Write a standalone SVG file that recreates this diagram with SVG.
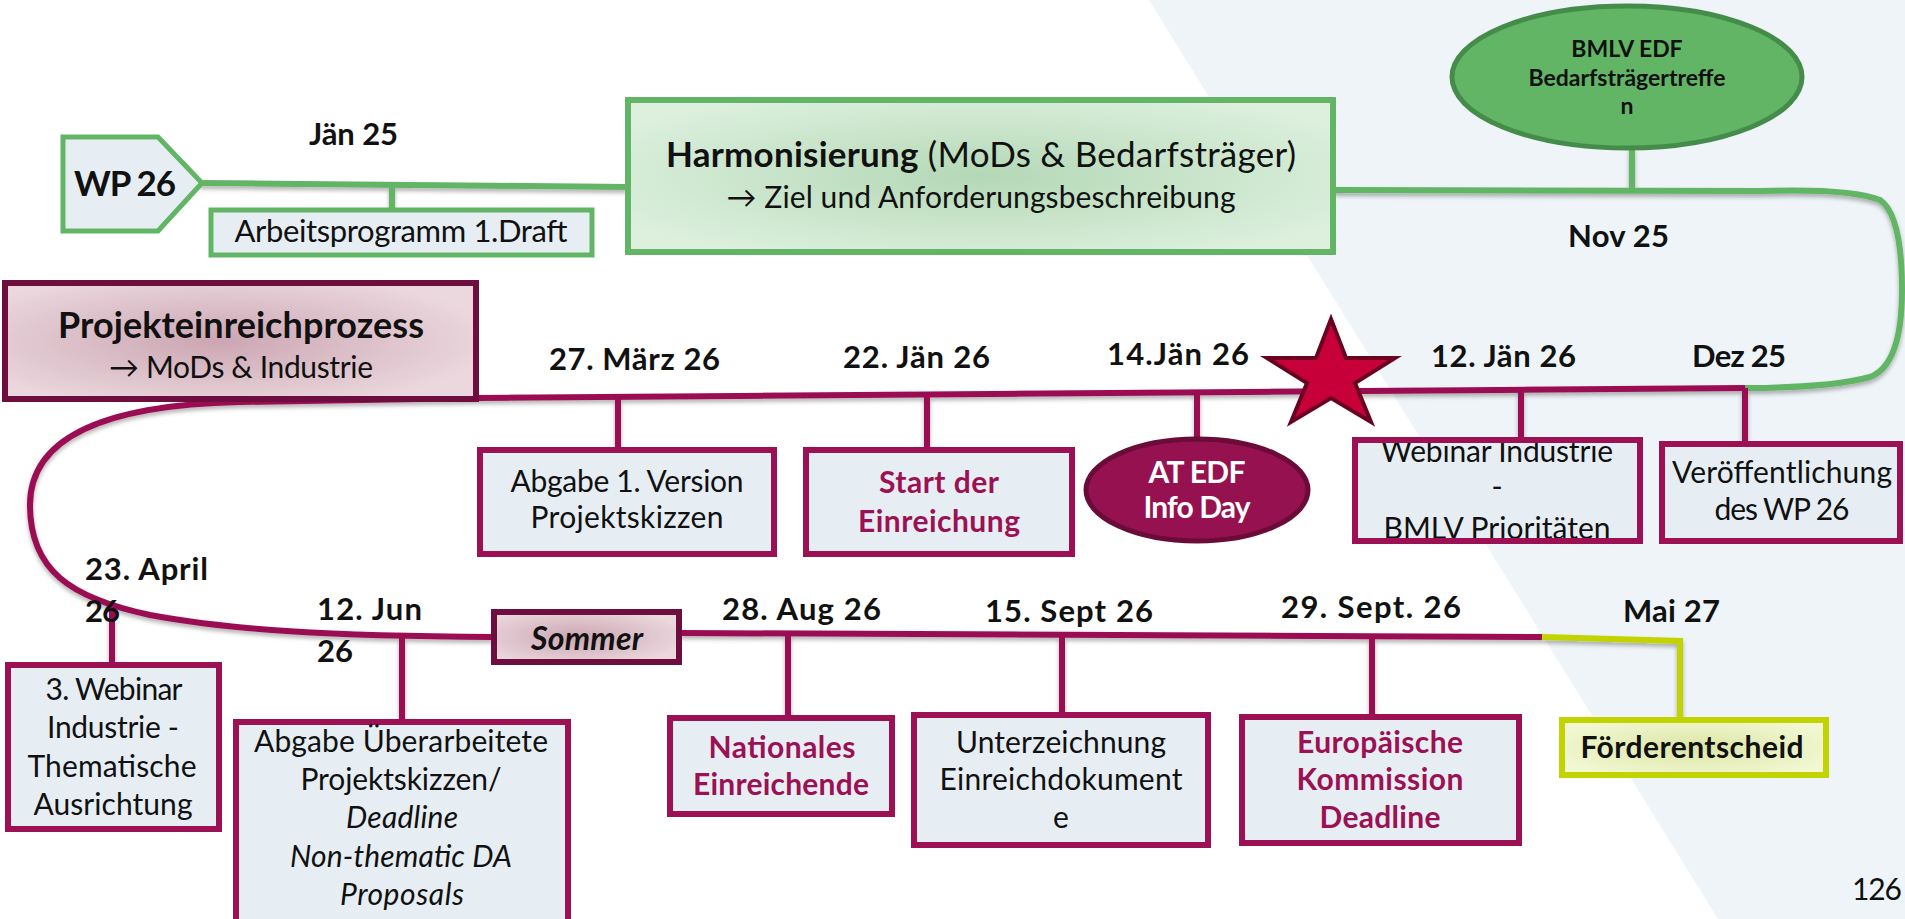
<svg xmlns="http://www.w3.org/2000/svg" width="1905" height="919" viewBox="0 0 1905 919">
<defs>
<style>
text { font-family: Lato, "Liberation Sans", sans-serif; }
.d { font-weight: 700; font-size: 31px; fill: #111; }
.t { font-size: 30px; fill: #111; text-anchor: middle; }
.tb { font-size: 30px; font-weight: 700; fill: #9B1153; text-anchor: middle; }
.box { fill: #E6EEF4; stroke: #9B1153; stroke-width: 6; }
.gbox { fill: #E6EEF4; stroke: #62B565; stroke-width: 5; }
.gl { fill: none; stroke: #62B565; stroke-width: 6; }
.ml { fill: none; stroke: #9B1153; stroke-width: 6; }
.yl { fill: none; stroke: #C2D400; stroke-width: 6; }
</style>
<filter id="sh" x="-10%" y="-50%" width="120%" height="200%">
<feDropShadow dx="0" dy="3" stdDeviation="2" flood-color="#000" flood-opacity="0.3"/>
</filter>
<radialGradient id="gg" cx="50%" cy="50%" r="60%">
<stop offset="0" stop-color="#B4D8B6"/><stop offset="1" stop-color="#DDF0DE"/>
</radialGradient>
<radialGradient id="pg" cx="45%" cy="50%" r="60%">
<stop offset="0" stop-color="#CCA6B2"/><stop offset="1" stop-color="#EBD8DE"/>
</radialGradient>
<radialGradient id="yg" cx="50%" cy="50%" r="60%">
<stop offset="0" stop-color="#DCE6A6"/><stop offset="1" stop-color="#F3F8D4"/>
</radialGradient>
</defs>

<rect width="1905" height="919" fill="#FFFFFF"/>
<polygon points="1149,0 1905,0 1905,919 1718,919" fill="#EEF4F7"/>

<g id="connectors" filter="url(#sh)">
<path class="gl" d="M200,183 L627,187"/>
<path class="gl" d="M392,186 L392,208"/>
<path class="gl" d="M1334,190 L1760,191 Q1850,188 1880,200 Q1902,215 1902,290 Q1902,365 1870,377 Q1830,388 1742,388"/>
<path class="gl" d="M1632,148 L1632,191"/>
<path class="ml" d="M477,398 L1745,388"/>
<path class="ml" d="M479,398 L240,402 C100,405 30,440 30,505 C30,570 70,598 150,615 C230,630 330,636 493,637"/>
<path class="ml" d="M618,396 L618,449"/>
<path class="ml" d="M927,393 L927,448"/>
<path class="ml" d="M1197,391 L1197,439"/>
<path class="ml" d="M1521,389 L1521,438"/>
<path class="ml" d="M1745,388 L1745,442"/>
<path class="ml" d="M680,633 L1542,637"/>
<path class="ml" d="M112,606 L112,663"/>
<path class="ml" d="M402,635 L402,720"/>
<path class="ml" d="M788,634 L788,716"/>
<path class="ml" d="M1062,635 L1062,713"/>
<path class="ml" d="M1372,637 L1372,715"/>
<path class="yl" d="M1542,637 L1680,641 L1680,718"/>
</g>

<g id="wp26">
<polygon points="63,137 158,137 202,183 158,231 63,231" fill="#E6EEF4" stroke="#62B565" stroke-width="5"/>
<text x="125" y="196" class="d" style="font-size:35px" text-anchor="middle" textLength="102">WP 26</text>
</g>
<g id="jan25"><text x="309" y="145" class="d" textLength="89">Jän 25</text></g>
<g id="arbeitsprogramm">
<rect x="211" y="210" width="381" height="45" class="gbox"/>
<text x="401" y="242" class="t" style="font-size:31px" textLength="333">Arbeitsprogramm 1.Draft</text>
</g>
<g id="harmonisierung">
<rect x="628" y="100" width="705" height="152" fill="url(#gg)" stroke="#62B565" stroke-width="6"/>
<text x="981" y="167" class="t" style="font-size:35px" textLength="630"><tspan font-weight="700">Harmonisierung</tspan> (MoDs &amp; Bedarfsträger)</text>
<text x="981" y="208" class="t" textLength="509">→ Ziel und Anforderungsbeschreibung</text>
</g>
<g id="bmlv">
<ellipse cx="1627" cy="77" rx="175" ry="71" fill="#62B565" stroke="#458C4B" stroke-width="5"/>
<text x="1627" y="57" class="d" style="font-size:23px" text-anchor="middle">BMLV EDF</text>
<text x="1627" y="86" class="d" style="font-size:23px" text-anchor="middle">Bedarfsträgertreffe</text>
<text x="1627" y="114" class="d" style="font-size:23px" text-anchor="middle">n</text>
</g>
<g id="nov25"><text x="1568" y="247" class="d" textLength="101">Nov 25</text></g>
<g id="dez25"><text x="1692" y="367" class="d" textLength="94">Dez 25</text></g>
<g id="jan26-12"><text x="1431" y="367" class="d" textLength="145">12. Jän 26</text></g>
<g id="jan26-14"><text x="1107" y="365" class="d" textLength="142">14.Jän 26</text></g>
<g id="jan26-22"><text x="843" y="368" class="d" textLength="147">22. Jän 26</text></g>
<g id="maerz26"><text x="549" y="370" class="d" textLength="171">27. März 26</text></g>

<g id="projekteinreichprozess">
<rect x="5" y="283" width="471" height="116" fill="url(#pg)" stroke="#6E0E3E" stroke-width="6"/>
<text x="241" y="338" class="t" style="font-size:36px;font-weight:700" textLength="366">Projekteinreichprozess</text>
<text x="241" y="378" class="t" textLength="264">→ MoDs &amp; Industrie</text>
</g>
<g id="star">
<polygon points="1331,319 1346,358 1395,358 1355,383 1371,422 1331,398 1291,422 1307,383 1267,358 1316,358" fill="#C8003A" stroke="#6B0020" stroke-width="4" stroke-linejoin="miter"/>
</g>
<g id="abgabe1">
<rect x="480" y="450" width="294" height="104" class="box"/>
<text x="627" y="492" class="t" textLength="233">Abgabe 1. Version</text>
<text x="627" y="528" class="t" textLength="193">Projektskizzen</text>
</g>
<g id="startder">
<rect x="806" y="450" width="266" height="104" class="box"/>
<text x="939" y="493" class="tb" textLength="120">Start der</text>
<text x="939" y="532" class="tb" textLength="162">Einreichung</text>
</g>
<g id="infoday">
<ellipse cx="1197" cy="490" rx="111" ry="51" fill="#96114F" stroke="#6A0B38" stroke-width="5"/>
<text x="1197" y="483" class="tb" style="fill:#FFFFFF" textLength="97">AT EDF</text>
<text x="1197" y="518" class="tb" style="fill:#FFFFFF" textLength="107">Info Day</text>
</g>
<g id="webinar-industrie">
<rect x="1355" y="440" width="285" height="101" fill="#E6EEF4"/>
<text x="1497" y="462" class="t" textLength="232">Webinar Industrie</text>
<text x="1497" y="497" class="t">-</text>
<text x="1497" y="539" class="t" textLength="227">BMLV Prioritäten</text>
<rect x="1355" y="440" width="285" height="101" class="box" style="fill:none"/>
</g>
<g id="veroeffentlichung">
<rect x="1662" y="444" width="238" height="97" class="box"/>
<text x="1782" y="483" class="t" textLength="220">Veröffentlichung</text>
<text x="1782" y="520" class="t" textLength="135">des WP 26</text>
</g>

<g id="april26"><text x="85" y="580" class="d" textLength="123">23. April</text><text x="85" y="622" class="d" textLength="35">26</text></g>
<g id="jun26"><text x="317" y="620" class="d" textLength="105">12. Jun</text><text x="317" y="662" class="d" textLength="36">26</text></g>
<g id="sommer">
<rect x="494" y="612" width="185" height="50" fill="url(#pg)" stroke="#6E0E3E" stroke-width="6"/>
<text x="587" y="650" class="t" style="font-size:32px;font-weight:700;font-style:italic" textLength="112">Sommer</text>
</g>
<g id="aug26"><text x="722" y="620" class="d" textLength="159">28. Aug 26</text></g>
<g id="sept26-15"><text x="985" y="622" class="d" textLength="168">15. Sept 26</text></g>
<g id="sept26-29"><text x="1281" y="618" class="d" textLength="180">29. Sept. 26</text></g>
<g id="mai27"><text x="1623" y="622" class="d" textLength="97">Mai 27</text></g>

<g id="webinar3">
<rect x="8" y="665" width="211" height="164" class="box"/>
<text x="114" y="700" class="t" textLength="137">3. Webinar</text>
<text x="113" y="738" class="t" textLength="132">Industrie -</text>
<text x="112" y="777" class="t" textLength="169">Thematische</text>
<text x="113" y="815" class="t" textLength="159">Ausrichtung</text>
</g>
<g id="abgabe-ueberarbeitete">
<rect x="236" y="722" width="332" height="210" class="box"/>
<text x="401" y="752" class="t" textLength="294">Abgabe Überarbeitete</text>
<text x="401" y="790" class="t" textLength="201">Projektskizzen/</text>
<text x="402" y="828" class="t" font-style="italic" textLength="112">Deadline</text>
<text x="401" y="867" class="t" font-style="italic" textLength="222">Non-thematic DA</text>
<text x="402" y="905" class="t" font-style="italic" textLength="124">Proposals</text>
</g>
<g id="nationales">
<rect x="670" y="718" width="222" height="96" class="box"/>
<text x="782" y="758" class="tb" textLength="147">Nationales</text>
<text x="781" y="795" class="tb" textLength="176">Einreichende</text>
</g>
<g id="unterzeichnung">
<rect x="914" y="715" width="294" height="130" class="box"/>
<text x="1061" y="753" class="t" textLength="210">Unterzeichnung</text>
<text x="1061" y="790" class="t" textLength="243">Einreichdokument</text>
<text x="1061" y="828" class="t">e</text>
</g>
<g id="europaeische">
<rect x="1242" y="717" width="277" height="126" class="box"/>
<text x="1380" y="753" class="tb" textLength="166">Europäische</text>
<text x="1380" y="790" class="tb" textLength="167">Kommission</text>
<text x="1380" y="828" class="tb" textLength="121">Deadline</text>
</g>
<g id="foerderentscheid">
<rect x="1562" y="720" width="264" height="55" fill="url(#yg)" stroke="#C2D400" stroke-width="6"/>
<text x="1692" y="758" class="t" font-weight="700" textLength="223">Förderentscheid</text>
</g>
<g id="page"><text x="1852" y="900" font-size="30" fill="#111" textLength="50">126</text></g>
</svg>
